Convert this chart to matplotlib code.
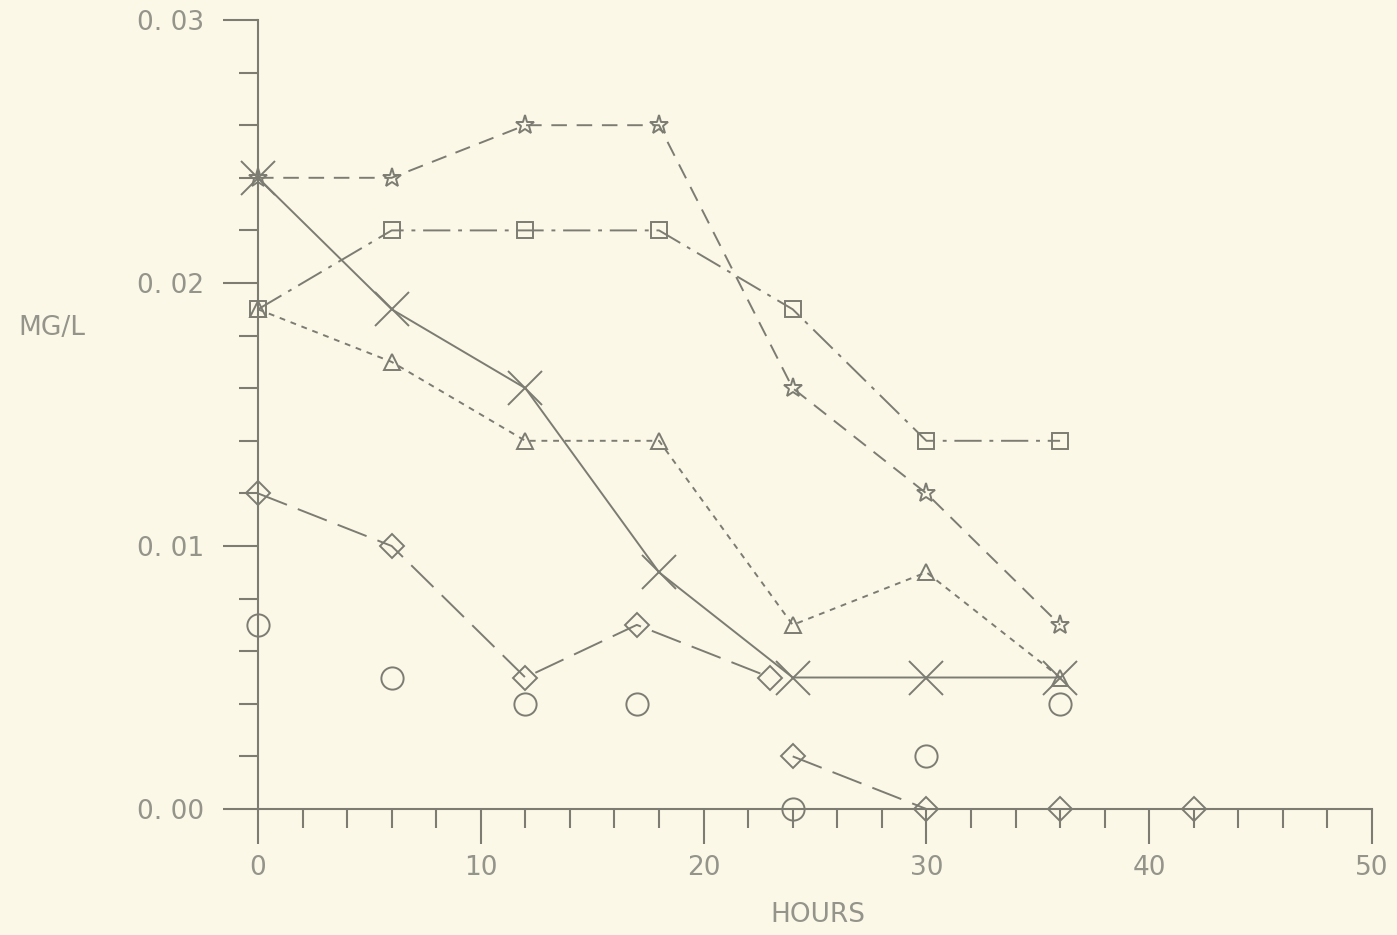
import matplotlib
matplotlib.use("Agg")
import matplotlib.pyplot as plt
import numpy as np

# ---- data ----
hours = [0, 6, 12, 18, 24, 30, 36]
star_vals = [0.024, 0.024, 0.026, 0.026, 0.016, 0.012, 0.007]
square_vals = [0.019, 0.022, 0.022, 0.022, 0.019, 0.014, 0.014]
triangle_vals = [0.019, 0.017, 0.014, 0.014, 0.007, 0.009, 0.005]
x_vals = [0.024, 0.019, 0.016, 0.009, 0.005, 0.005, 0.005]
diamond_hours_a = [0, 6, 12, 17, 23]
diamond_vals_a = [0.012, 0.010, 0.005, 0.007, 0.005]
diamond_hours_b = [24, 30, 36, 42]
diamond_vals_b = [0.002, 0.0, 0.0, 0.0]
circle_hours = [0, 6, 12, 17, 24, 30, 36]
circle_vals = [0.007, 0.005, 0.004, 0.004, 0.0, 0.002, 0.004]
x_major = [0, 10, 20, 30, 40, 50]
x_labels = ["0", "10", "20", "30", "40", "50"]
y_major = [0.0, 0.01, 0.02, 0.03]
y_labels = ["0. 00", "0. 01", "0. 02", "0. 03"]

bg = "#fbf8e8"
ink = "#7c7c72"
txt = "#94948a"

plt.rcParams['font.family'] = ['DejaVu Sans']

fig = plt.figure(figsize=(13.97, 9.35), dpi=100, facecolor=bg)
ax = fig.add_axes([258/1397, 1-809/935, (1372-258)/1397, (809-20)/935])
ax.set_facecolor(bg)
ax.set_xlim(0, 50)
ax.set_ylim(0, 0.03)

lw = 1.4
common = dict(color=ink, lw=lw, clip_on=False, markerfacecolor="none",
              markeredgecolor=ink, markeredgewidth=1.4)

ax.plot(hours, star_vals, marker="*", ms=14, dashes=(8, 5), **common)
ax.plot(hours, square_vals, marker="s", ms=11, dashes=(14, 4, 2, 4), **common)
ax.plot(hours, triangle_vals, marker="^", ms=12, dashes=(3, 3), **common)
ax.plot(hours, x_vals, marker="x", ms=24, linestyle="-", **common)
ax.plot(diamond_hours_a, diamond_vals_a, marker="D", ms=12, dashes=(16, 6), **common)
ax.plot(diamond_hours_b, diamond_vals_b, marker="D", ms=12, dashes=(16, 6), **common)
ax.plot(circle_hours, circle_vals, marker="o", ms=16, linestyle="none",
        clip_on=False, markerfacecolor="none", markeredgecolor=ink, markeredgewidth=1.4)

for s in ["top", "right"]:
    ax.spines[s].set_visible(False)
for s in ["left", "bottom"]:
    ax.spines[s].set_color(ink)
    ax.spines[s].set_linewidth(1.5)

ax.set_xticks(x_major)
ax.set_xticklabels(x_labels)
ax.set_xticks(np.arange(0, 51, 2), minor=True)
ax.set_yticks(y_major)
ax.set_yticklabels(y_labels)
ax.set_yticks(np.arange(0, 0.0301, 0.002), minor=True)

ax.tick_params(axis="both", which="major", direction="out", length=25, width=1.5,
               color=ink, labelcolor=txt, labelsize=19)
ax.tick_params(axis="both", which="minor", direction="out", length=14, width=1.5, color=ink)
ax.tick_params(axis="x", which="major", pad=8)
ax.tick_params(axis="y", which="major", pad=14)

fig.text(52/1397, 1-328/935, "MG/L", color=txt, fontsize=19, ha="center", va="center")
fig.text(818/1397, 1-915/935, "HOURS", color=txt, fontsize=19, ha="center", va="center")

fig.savefig("out.png", dpi=100, facecolor=bg)
